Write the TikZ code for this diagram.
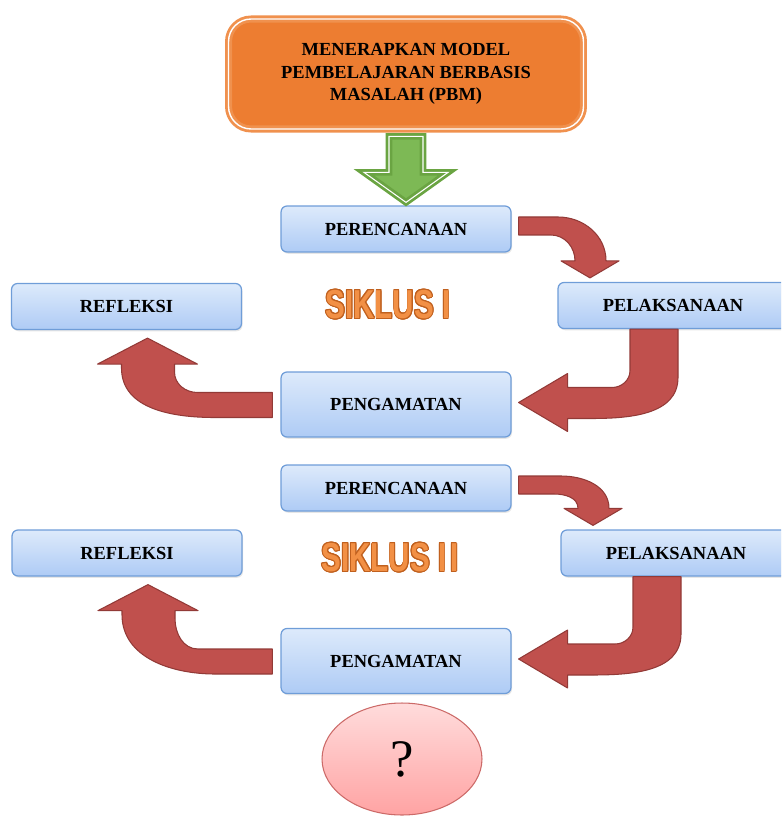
\documentclass[tikz,border=0pt]{standalone}
\usepackage{fontspec}
\setmainfont{Liberation Serif}
\newfontfamily\siklusfont{Liberation Sans}
\usepackage{contour}
\contourlength{0.7pt}
\contournumber{16}
\usetikzlibrary{calc,shapes.geometric,shadows}
\tikzset{>=latex}

\definecolor{orgfill}{HTML}{ED7D31}
\definecolor{orgline}{HTML}{F0914E}
\definecolor{grnfill}{HTML}{7DB955}
\definecolor{grnline}{HTML}{6AA442}
\definecolor{bluetop}{HTML}{DDEAFB}
\definecolor{bluebot}{HTML}{AECBF5}
\definecolor{blueline}{HTML}{6F9DD8}
\definecolor{redfill}{HTML}{C0504D}
\definecolor{redline}{HTML}{923A37}
\definecolor{pinktop}{HTML}{FFDCDC}
\definecolor{pinkbot}{HTML}{FFA3A3}
\definecolor{pinkline}{HTML}{CC6A68}
\definecolor{sikfill}{HTML}{F29045}
\definecolor{sikline}{HTML}{C0601E}

\tikzset{
  stagebox/.style={draw=blueline, line width=0.7pt, rounded corners=0.12cm, top color=bluetop, bottom color=bluebot, minimum width=4.6cm, minimum height=0.92cm, font=\bfseries\fontsize{10.5}{12.75}\selectfont, drop shadow={opacity=0.2, shadow xshift=0.6pt, shadow yshift=-1pt}},
  modelbox/.style={draw=orgline, line width=1.6pt, double=white, double distance=0.8pt, fill=orgfill, rounded corners=0.45cm, minimum width=7.1cm, minimum height=2.2cm, align=center, font=\bfseries\fontsize{10.5}{12.75}\selectfont},
  siklus/.style={text=sikfill, font=\siklusfont\bfseries\fontsize{23}{23}\selectfont, xscale=0.73, transform shape},
  redarrow/.style={fill=redfill, draw=redline, line width=0.6pt, line join=round},
  greenarrow/.style={fill=grnfill, draw=grnline, line width=1.6pt, double=white, double distance=0.6pt, line join=miter}
}

% right then down
\newcommand{\bendrd}[2]{
  \coordinate (s) at (#1.east);
  \coordinate (t) at ($(#2.north)+(-83,-4)$);
  \filldraw[redarrow] ($(s)+(7,-12)$) -- ($(t|-s)+(-32,-12)$) to[out=0,in=90] ($(t)+(16,-17)$) -- ($(t)+(29,-17)$) -- (t) -- ($(t)+(-29,-17)$) -- ($(t)+(-15,-17)$) to[out=90,in=0] ($(t|-s)+(-39,6)$) -- ($(s)+(7,6)$) -- cycle;
}
% down then left
\newcommand{\benddl}[2]{
  \coordinate (s) at (#1.south);
  \coordinate (t) at ($(#2.east)+(7,-2)$);
  \filldraw[redarrow] ($(s)+(-43,0)$) -- ($(s|-t)+(-43,-32)$) to[out=-90,in=0] ($(s|-t)+(-61,-15)$) -- ($(t)+(49,-15)$) -- ($(t)+(49,-29)$) -- (t) -- ($(t)+(49,29)$) -- ($(t)+(49,16)$) -- ($(t)+(72,16)$) to[out=0,in=-90] ($(s|-t)+(5,-25)$) -- ($(s)+(5,0)$) -- cycle;
}
% left then up
\newcommand{\bendlu}[2]{
  \coordinate (s) at (#1.west);
  \coordinate (t) at ($(#2.south)+(21,8)$);
  \filldraw[redarrow] ($(s)+(-8,-12)$) -- ($(t|-s)+(50,-12)$) to[out=180,in=-90] ($(t)+(27,34)$) -- ($(t)+(27,26)$) -- ($(t)+(50,26)$) -- (t) -- ($(t)+(-50,26)$) -- ($(t)+(-26,26)$) -- ($(t)+(-26,30)$) to[out=-90,in=180] ($(t|-s)+(67,13)$) -- ($(s)+(-8,13)$) -- cycle;
}

\begin{document}
\begin{tikzpicture}[x=0.02cm, y=-0.02cm]

\useasboundingbox (0,0) rectangle (781,817);
\clip (0,0) rectangle (781,817);

\node[modelbox] (model) at (406,74) {MENERAPKAN MODEL\\PEMBELAJARAN BERBASIS\\MASALAH (PBM)};

\node[stagebox] (per1) at (396,229) {PERENCANAAN};
\node[stagebox] (pel1) at (673,305.5) {PELAKSANAAN};
\node[stagebox] (ref1) at (126.5,306.5) {REFLEKSI};
\node[stagebox, minimum height=1.3cm] (pen1) at (396,404.5) {PENGAMATAN};

\node[stagebox] (per2) at (396,488) {PERENCANAAN};
\node[stagebox] (pel2) at (676,553) {PELAKSANAAN};
\node[stagebox] (ref2) at (127,553) {REFLEKSI};
\node[stagebox, minimum height=1.3cm] (pen2) at (396,661) {PENGAMATAN};

\node[siklus] (sik1) at (388,305) {\contour{sikline}{SIKLUS I}};
\node[siklus] (sik2) at (390,558) {\contour{sikline}{SIKLUS I\kern3pt I}};

\node[ellipse, draw=pinkline, line width=0.6pt, top color=pinktop, bottom color=pinkbot, minimum width=3.2cm, minimum height=2.24cm, inner sep=0pt, font=\fontsize{30}{30}\selectfont] (ask) at (402,759) {?};

\coordinate (gt) at ($(model.south|-per1.north)+(0,-3)$);
\filldraw[greenarrow] ($(model.south)+(-17,6)$) -- ($(gt)+(-17,-30)$) -- ($(gt)+(-42,-30)$) -- (gt) -- ($(gt)+(42,-30)$) -- ($(gt)+(17,-30)$) -- ($(model.south)+(17,6)$) -- cycle;

\bendrd{per1}{pel1}
\benddl{pel1}{pen1}
\bendlu{pen1}{ref1}

\bendrd{per2}{pel2}
\benddl{pel2}{pen2}
\bendlu{pen2}{ref2}

\end{tikzpicture}
\end{document}
